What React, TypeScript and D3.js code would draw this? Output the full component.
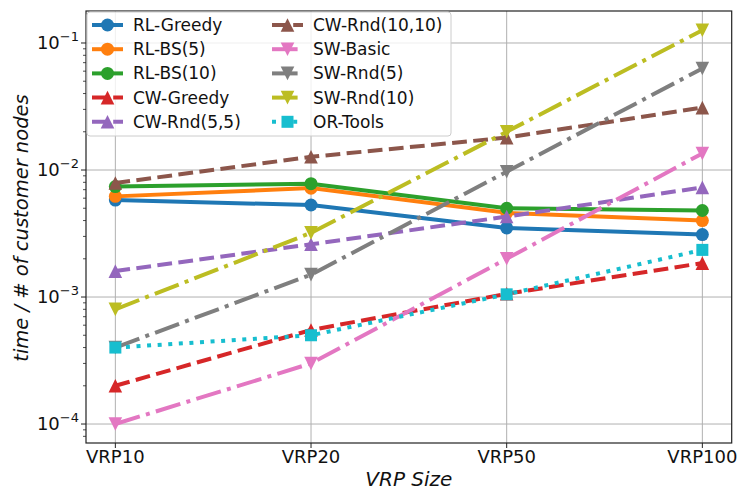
import React from 'react';
import { scaleLinear, scaleLog, line } from 'd3';

const sizes = ['VRP10', 'VRP20', 'VRP50', 'VRP100'];

const rlGreedy = [0.0058, 0.0053, 0.0035, 0.0031];
const rlBs5 = [0.0062, 0.0072, 0.0046, 0.0040];
const rlBs10 = [0.0074, 0.0078, 0.0050, 0.0048];
const cwGreedy = [0.0002, 0.00055, 0.00106, 0.00185];
const cwRnd55 = [0.0016, 0.0026, 0.0043, 0.0073];
const cwRnd1010 = [0.0079, 0.0127, 0.018, 0.031];
const swBasic = [0.0001, 0.0003, 0.002, 0.0135];
const swRnd5 = [0.0004, 0.0015, 0.0097, 0.063];
const swRnd10 = [0.0008, 0.0032, 0.020, 0.126];
const orTools = [0.0004, 0.0005, 0.00105, 0.00235];

const yTicks = [1e-4, 1e-3, 1e-2, 1e-1];
const yTickExp = ['−4', '−3', '−2', '−1'];

const series = [
  { name: 'RL-Greedy', values: rlGreedy, color: '#1f77b4', marker: 'o', dash: '' },
  { name: 'RL-BS(5)', values: rlBs5, color: '#ff7f0e', marker: 'o', dash: '' },
  { name: 'RL-BS(10)', values: rlBs10, color: '#2ca02c', marker: 'o', dash: '' },
  { name: 'CW-Greedy', values: cwGreedy, color: '#d62728', marker: '^', dash: '14.8,6.4' },
  { name: 'CW-Rnd(5,5)', values: cwRnd55, color: '#9467bd', marker: '^', dash: '14.8,6.4' },
  { name: 'CW-Rnd(10,10)', values: cwRnd1010, color: '#8c564b', marker: '^', dash: '14.8,6.4' },
  { name: 'SW-Basic', values: swBasic, color: '#e377c2', marker: 'v', dash: '25.6,6.4,4,6.4' },
  { name: 'SW-Rnd(5)', values: swRnd5, color: '#7f7f7f', marker: 'v', dash: '25.6,6.4,4,6.4' },
  { name: 'SW-Rnd(10)', values: swRnd10, color: '#bcbd22', marker: 'v', dash: '25.6,6.4,4,6.4' },
  { name: 'OR-Tools', values: orTools, color: '#17becf', marker: 's', dash: '4,6.6' },
];

const W = 740;
const H = 491;
const left = 86;
const right = 731.7;
const top = 11;
const bottom = 443;
const font = 'DejaVu Sans, sans-serif';

const x = scaleLinear().domain([-0.15, 3.15]).range([left, right]);
const y = scaleLog().domain([7.09e-5, 0.1786]).range([bottom, top]);

const Marker = ({ kind, cx, cy, color }: { kind: string; cx: number; cy: number; color: string }) => {
  if (kind === 'o') return <circle cx={cx} cy={cy} r={6.5} fill={color} />;
  if (kind === 's') return <rect x={cx - 6} y={cy - 6} width={12} height={12} fill={color} />;
  const s = 6.8;
  if (kind === '^')
    return <path d={`M${cx},${cy - s}L${cx + s},${cy + s}L${cx - s},${cy + s}Z`} fill={color} />;
  return <path d={`M${cx},${cy + s}L${cx + s},${cy - s}L${cx - s},${cy - s}Z`} fill={color} />;
};

const App = () => {
  const path = line<number>()
    .x((_, i) => x(i))
    .y((d) => y(d));

  const minor: number[] = [];
  for (let e = -5; e <= 0; e++) {
    for (let k = 2; k <= 9; k++) {
      const v = k * Math.pow(10, e);
      if (v > y.domain()[0] && v < y.domain()[1]) minor.push(v);
    }
  }

  const legX = 87;
  const legY = 12;
  const rowH = 24.2;
  const col2 = 272 - 92;

  return (
    <svg width={W} height={H} style={{ position: 'absolute', left: 0, top: 0 }} fontFamily={font}>
      <rect width={W} height={H} fill="white" />
      {/* grid */}
      {yTicks.map((t) => (
        <line key={t} x1={left} x2={right} y1={y(t)} y2={y(t)} stroke="#b0b0b0" strokeWidth={1} />
      ))}
      {sizes.map((s, i) => (
        <line key={s} x1={x(i)} x2={x(i)} y1={top} y2={bottom} stroke="#b0b0b0" strokeWidth={1} />
      ))}
      {/* series */}
      <g clipPath="url(#clip)">
        {series.map((s) => (
          <g key={s.name}>
            <path
              d={path(s.values) || ''}
              fill="none"
              stroke={s.color}
              strokeWidth={4}
              strokeDasharray={s.dash || undefined}
            />
            {s.values.map((v, i) => (
              <Marker key={i} kind={s.marker} cx={x(i)} cy={y(v)} color={s.color} />
            ))}
          </g>
        ))}
      </g>
      {/* spines */}
      <rect x={left} y={top} width={right - left} height={bottom - top} fill="none" stroke="#222" strokeWidth={1.2} />
      {/* y ticks */}
      {yTicks.map((t, i) => (
        <g key={t}>
          <line x1={left - 5} x2={left} y1={y(t)} y2={y(t)} stroke="#222" strokeWidth={1} />
          <text x={left - 7} y={y(t) + 6} textAnchor="end" fontSize={18} fill="#111">
            10<tspan dy={-8} fontSize={13}>{yTickExp[i]}</tspan>
          </text>
        </g>
      ))}
      {minor.map((t) => (
        <line key={t} x1={left - 3} x2={left} y1={y(t)} y2={y(t)} stroke="#222" strokeWidth={0.8} />
      ))}
      {/* x ticks */}
      {sizes.map((s, i) => (
        <g key={s}>
          <line x1={x(i)} x2={x(i)} y1={bottom} y2={bottom + 5} stroke="#222" strokeWidth={1} />
          <text x={x(i)} y={bottom + 20} textAnchor="middle" fontSize={18} fill="#111">
            {s}
          </text>
        </g>
      ))}
      <text x={(left + right) / 2} y={486} textAnchor="middle" fontSize={20} fontStyle="italic" fill="#111">
        VRP Size
      </text>
      <text
        transform={`translate(28,228) rotate(-90)`}
        textAnchor="middle"
        fontSize={19.5}
        fontStyle="italic"
        fill="#111"
      >
        time / # of customer nodes
      </text>
      {/* legend */}
      <rect x={legX} y={legY} width={451 - legX} height={136 - legY} rx={3} fill="white" fillOpacity={0.8} stroke="#cccccc" />
      {series.map((s, i) => {
        const col = i < 5 ? 0 : 1;
        const row = i % 5;
        const hx = 92 + col * col2;
        const cy = 25 + row * rowH;
        return (
          <g key={s.name}>
            <line x1={hx} x2={hx + 31} y1={cy} y2={cy} stroke={s.color} strokeWidth={4} strokeDasharray={s.dash || undefined} />
            <Marker kind={s.marker} cx={hx + 15.5} cy={cy} color={s.color} />
            <text x={hx + 41} y={cy + 6} fontSize={17} fill="#111">
              {s.name}
            </text>
          </g>
        );
      })}
      <defs>
        <clipPath id="clip">
          <rect x={left} y={top} width={right - left} height={bottom - top} />
        </clipPath>
      </defs>
    </svg>
  );
};

export default App;
